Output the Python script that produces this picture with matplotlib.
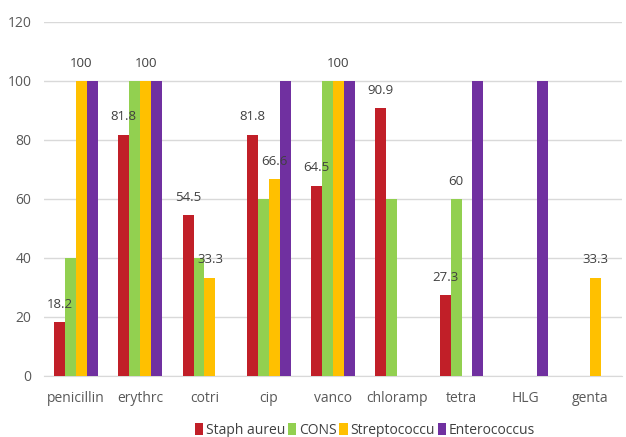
import numpy as np
import matplotlib.pyplot as plt

plt.rcParams['font.family'] = ['Open Sans', 'DejaVu Sans']

drugs = ['penicillin', 'erythrc', 'cotri', 'cip', 'vanco', 'chloramp', 'tetra', 'HLG', 'genta']
series_names = ['Staph aureu', 'CONS', 'Streptococcu', 'Enterococcus']
staph = [18.2, 81.8, 54.5, 81.8, 64.5, 90.9, 27.3, 0, 0]
cons = [40, 100, 40, 60, 100, 60, 60, 0, 0]
strep = [100, 100, 33.3, 66.6, 100, 0, 0, 0, 33.3]
entero = [100, 100, 0, 100, 100, 0, 100, 100, 0]
colors = ['#C11F28', '#92D050', '#FFC000', '#7030A0']

# which bars carry a value label: (series index, category index)
labelled = [(0, 0), (2, 0), (0, 1), (2, 1), (0, 2), (2, 2), (0, 3), (2, 3),
            (0, 4), (2, 4), (0, 5), (0, 6), (1, 6), (2, 8)]

fig = plt.figure(figsize=(6.26, 4.37), dpi=100)
ax = fig.add_axes([0.070, 0.140, 0.924, 0.810])

x = np.arange(len(drugs))
w = 0.17
data = [staph, cons, strep, entero]
for i, vals in enumerate(data):
    ax.bar(x + (i - 1.5) * w, vals, w, color=colors[i], label=series_names[i], zorder=3)

for s, c in labelled:
    v = data[s][c]
    ax.annotate(f'{v:g}', (x[c] + (s - 1.5) * w, v), xytext=(0, 8), textcoords='offset points',
                ha='center', va='bottom', fontsize=9.5, color='#404040', zorder=4)

ax.set_ylim(0, 120)
ax.set_yticks(range(0, 121, 20))
ax.set_xlim(-0.5, len(drugs) - 0.5)
ax.set_xticks(x)
ax.set_xticklabels(drugs)
ax.tick_params(axis='both', length=0, labelsize=10, colors='#595959')
ax.tick_params(axis='x', pad=11)
ax.tick_params(axis='y', pad=9)
ax.grid(axis='y', color='#D9D9D9', linewidth=1, zorder=0)
for sp in ['top', 'right', 'left']:
    ax.spines[sp].set_visible(False)
ax.spines['bottom'].set_color('#D9D9D9')

fig.legend(loc='center', bbox_to_anchor=(0.583, 0.015), ncol=4, frameon=False,
           fontsize=10, handlelength=0.6, handleheight=0.9, handletextpad=0.2,
           columnspacing=0.2, labelcolor='#404040')

fig.savefig('out.png', dpi=100)
